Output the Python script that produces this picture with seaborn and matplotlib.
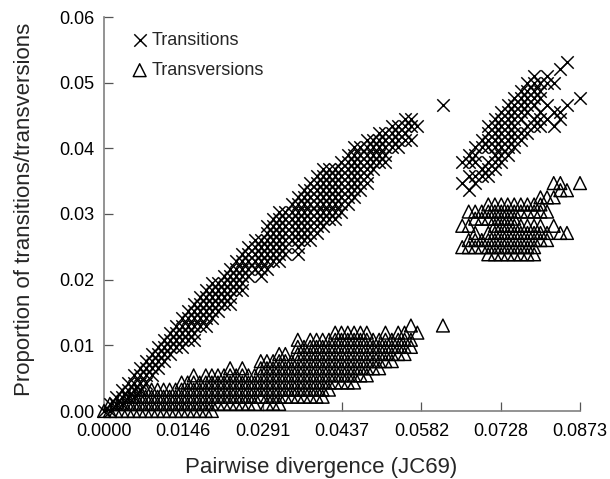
import pandas as pd
import seaborn as sns
import matplotlib.pyplot as plt

# alignment length, counts below are substitutions per pair
sites = 922

# one entry per column of points seen in the picture
divergence = [
    0.0, 0.00108, 0.00217, 0.00326, 0.00435, 0.00544, 0.00654, 0.00763, 0.00873, 0.00983,
    0.01093, 0.01203, 0.01313, 0.01423, 0.01534, 0.01645, 0.01755, 0.01867, 0.01978, 0.0209,
    0.02201, 0.02313, 0.02425, 0.02537, 0.02649, 0.02762, 0.02875, 0.02988, 0.03101, 0.03213,
    0.03326, 0.0344, 0.03554, 0.03668, 0.03783, 0.03898, 0.0401, 0.04125, 0.0424, 0.04355,
    0.04471, 0.04587, 0.04703, 0.0482, 0.04936, 0.05046, 0.05162, 0.05279, 0.05396, 0.05512,
    0.05629, 0.05747, 0.06216, 0.0657, 0.06689, 0.06808, 0.06928, 0.07048, 0.07169, 0.07286,
    0.07404, 0.07524, 0.07645, 0.07766, 0.07888, 0.08005, 0.08126, 0.08248, 0.0837, 0.08491,
    0.0873,
]

transition_counts = [
    [0], [1, 0], [2, 1], [3, 2, 1], [4, 3, 2], [5, 4, 3, 2], [6, 5, 4, 3], [7, 6, 5, 4],
    [8, 7, 6, 5], [9, 8, 7, 6], [10, 9, 8, 7], [11, 10, 9, 8], [12, 11, 10, 9],
    [13, 12, 11, 10, 9], [14, 13, 12, 11, 10], [15, 14, 13, 12, 11, 10], [16, 15, 14, 13, 12],
    [17, 16, 15, 14, 13, 12], [18, 17, 16, 15, 14, 13], [18, 17, 16, 15, 14], [19, 18, 17, 16, 15],
    [20, 19, 18, 17, 16, 15], [21, 20, 19, 18, 17], [22, 21, 20, 19, 18, 17], [23, 22, 21, 20, 19],
    [24, 23, 22, 21, 20], [24, 23, 22, 21, 20, 19], [26, 25, 24, 23, 22, 21, 20],
    [27, 26, 25, 24, 23, 22, 21], [28, 27, 26, 25, 24, 23, 22, 21], [28, 27, 26, 25, 24, 23, 22],
    [29, 28, 27, 26, 25, 24], [30, 29, 28, 27, 26, 25, 24, 23, 22], [31, 30, 29, 28, 27, 26, 25, 24],
    [32, 31, 30, 29, 28, 27, 26, 25, 24], [33, 32, 31, 30, 29, 28, 27, 26, 25],
    [34, 33, 32, 31, 30, 29, 28, 27, 26], [34, 33, 32, 31, 30, 29, 28, 27],
    [34, 33, 32, 31, 30, 29, 28, 27], [35, 34, 33, 32, 31, 30, 29, 28], [36, 35, 34, 33, 32, 31, 30, 29],
    [37, 36, 35, 34, 33, 32, 31, 30], [37, 36, 35, 34, 33, 32, 31], [38, 37, 36, 35, 34, 33, 32],
    [38, 37, 36, 35, 34], [39, 38, 37, 36, 35], [39, 38, 37, 36, 35], [40, 39, 38, 37],
    [40, 39, 38, 37], [41, 40, 39, 38], [41, 40, 38], [40], [43],
    [35, 32], [36, 35, 33, 31], [37, 36, 35, 33, 32], [38, 37, 34, 33],
    [40, 39, 38, 37, 35, 34, 33], [41, 40, 39, 38, 37, 36, 35, 34], [42, 41, 40, 39, 38, 37, 36, 35],
    [43, 42, 41, 40, 39, 38, 37, 36], [44, 43, 42, 41, 40, 39, 38, 37], [45, 44, 43, 42, 41, 39, 38],
    [46, 45, 44, 43, 42, 40, 39], [47, 46, 45, 44, 43, 41, 40], [46, 45, 44, 42, 41, 40],
    [47, 46, 43, 41], [46, 42, 40], [48, 42, 41], [49, 43], [44],
]

transversion_counts = [
    [0], [0, 1], [0, 1], [0, 1, 2], [0, 1, 2], [0, 1, 2, 3], [0, 1, 2, 3], [0, 1, 2, 3],
    [0, 1, 2, 3], [0, 1, 2, 3], [0, 1, 2, 3], [0, 1, 2, 3], [0, 1, 2, 3],
    [0, 1, 2, 3, 4], [0, 1, 2, 3, 4], [0, 1, 2, 3, 4, 5], [0, 1, 2, 3, 4],
    [0, 1, 2, 3, 4, 5], [0, 1, 2, 3, 4, 5], [1, 2, 3, 4, 5], [1, 2, 3, 4, 5],
    [1, 2, 3, 4, 5, 6], [1, 2, 3, 4, 5], [1, 2, 3, 4, 5, 6], [1, 2, 3, 4, 5],
    [1, 2, 3, 4, 5], [2, 3, 4, 5, 6, 7], [1, 2, 3, 4, 5, 6, 7],
    [1, 2, 3, 4, 5, 6, 7], [1, 2, 3, 4, 5, 6, 7, 8], [2, 3, 4, 5, 6, 7, 8],
    [2, 3, 4, 5, 6, 7], [2, 3, 4, 5, 6, 7, 8, 9, 10], [2, 3, 4, 5, 6, 7, 8, 9],
    [2, 3, 4, 5, 6, 7, 8, 9, 10], [2, 3, 4, 5, 6, 7, 8, 9, 10],
    [2, 3, 4, 5, 6, 7, 8, 9, 10], [3, 4, 5, 6, 7, 8, 9, 10],
    [4, 5, 6, 7, 8, 9, 10, 11], [4, 5, 6, 7, 8, 9, 10, 11], [4, 5, 6, 7, 8, 9, 10, 11],
    [4, 5, 6, 7, 8, 9, 10, 11], [5, 6, 7, 8, 9, 10, 11], [5, 6, 7, 8, 9, 10, 11],
    [6, 7, 8, 9, 10], [6, 7, 8, 9, 10], [7, 8, 9, 10, 11], [7, 8, 9, 10],
    [8, 9, 10, 11], [8, 9, 10, 11], [9, 10, 12], [11], [12],
    [23, 26], [23, 24, 26, 28], [23, 24, 25, 27, 28], [23, 24, 27, 28],
    [22, 23, 24, 25, 27, 28, 29], [22, 23, 24, 25, 26, 27, 28, 29], [22, 23, 24, 25, 26, 27, 28, 29],
    [22, 23, 24, 25, 26, 27, 28, 29], [22, 23, 24, 25, 26, 27, 28, 29], [22, 23, 24, 25, 26, 28, 29],
    [22, 23, 24, 25, 26, 28, 29], [22, 23, 24, 25, 26, 28, 29], [24, 25, 26, 28, 29, 30],
    [24, 25, 28, 30], [26, 30, 32], [25, 31, 32], [25, 31], [32],
]

x_ticks = [0.0, 0.01455, 0.0291, 0.04365, 0.0582, 0.07275, 0.0873]
x_labels = ['0.0000', '0.0146', '0.0291', '0.0437', '0.0582', '0.0728', '0.0873']
y_ticks = [0.0, 0.01, 0.02, 0.03, 0.04, 0.05, 0.06]
y_labels = ['0.00', '0.01', '0.02', '0.03', '0.04', '0.05', '0.06']


def long_table(counts):
    rows = []
    for d, column in zip(divergence, counts):
        for c in column:
            rows.append((d, c / sites))
    return pd.DataFrame(rows, columns=['divergence', 'proportion'])


sns.set_style('ticks')
plt.rcParams['font.family'] = ['Liberation Sans', 'DejaVu Sans']
plt.rcParams['path.snap'] = False

fig = plt.figure(figsize=(6.10, 4.79), dpi=100)
ax = fig.add_axes([104 / 610, 68 / 479, 476 / 610, 394 / 479])

sns.scatterplot(data=long_table(transition_counts), x='divergence', y='proportion', ax=ax,
                marker='x', color='black', s=80, linewidth=1.05, clip_on=False,
                label='Transitions', zorder=3)
sns.scatterplot(data=long_table(transversion_counts), x='divergence', y='proportion', ax=ax,
                marker='^', s=85, facecolor='none', edgecolor='black', linewidth=1.05,
                clip_on=False, label='Transversions', zorder=3)

ax.set_xlim(0, 0.0873)
ax.set_ylim(0, 0.06)
ax.set_xticks(x_ticks)
ax.set_xticklabels(x_labels)
ax.set_yticks(y_ticks)
ax.set_yticklabels(y_labels)
ax.tick_params(direction='in', length=6.5, width=0.9, color='#555555', labelsize=13, labelcolor='black')
ax.tick_params(axis='y', pad=7)
ax.tick_params(axis='x', pad=9)
ax.set_xlabel('Pairwise divergence (JC69)', fontsize=16, labelpad=12, x=0.457)
ax.set_ylabel('Proportion of transitions/transversions', fontsize=16, labelpad=17, y=0.513)

sns.despine(ax=ax)
ax.spines['left'].set_color('#808080')
ax.spines['bottom'].set_color('#808080')
ax.spines['left'].set_linewidth(1.2)
ax.spines['bottom'].set_linewidth(1.2)

ax.legend(loc='upper left', bbox_to_anchor=(0.018, 0.985), frameon=False, fontsize=13,
          labelspacing=0.72, handletextpad=-0.33, borderpad=0.0, markerscale=1.0)

fig.savefig('out.png', dpi=100)
